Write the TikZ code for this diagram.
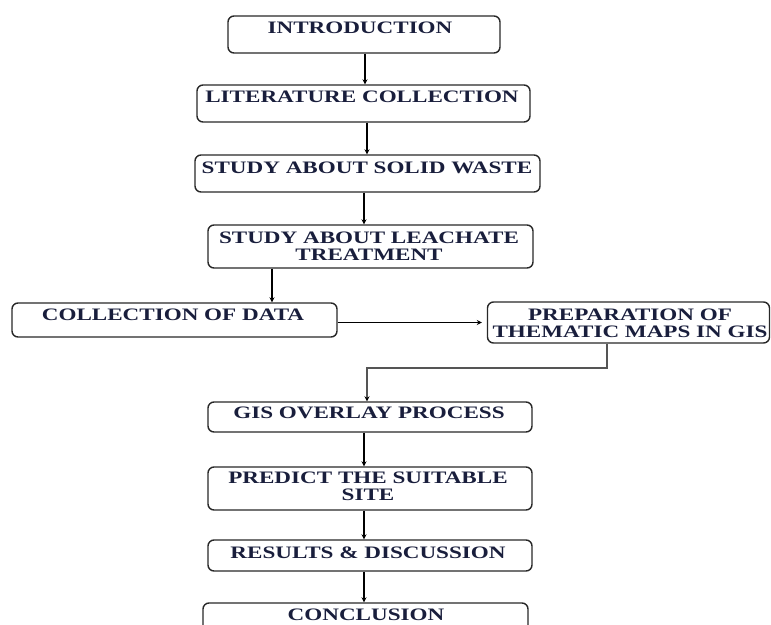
\documentclass[tikz,border=0pt]{standalone}
\usepackage{fontspec}
\setmainfont{Liberation Serif}
\newfontfamily\boxfont[FakeStretch=1.32]{Liberation Serif}
\usetikzlibrary{arrows.meta}
\definecolor{txtcol}{RGB}{25,30,60}
\definecolor{edgecol}{RGB}{40,40,40}
\definecolor{greyline}{RGB}{85,85,85}
\tikzset{
  box/.style={draw=edgecol, line width=1.4pt, rounded corners=6pt, inner sep=0pt},
  lbl/.style={anchor=north, inner sep=0pt, text=txtcol, align=center,
    font=\boxfont\bfseries\fontsize{17.5}{16.8}\selectfont},
  arr/.style={draw=black, line width=1.3pt, -{Stealth[length=5pt,width=5pt]}},
  garr/.style={draw=greyline, line width=1.8pt, -{Stealth[length=5pt,width=5pt,color=black]}}
}
\begin{document}
\begin{tikzpicture}[x=1pt,y=-1pt]
\useasboundingbox (0,0) rectangle (771,624);
\clip (0,0) rectangle (771,624);
% boxes
\node[box, minimum width=272pt, minimum height=37pt] (b1) at (364,34.5) {};
\node[box, minimum width=333pt, minimum height=37pt] (b2) at (363.5,103.5) {};
\node[box, minimum width=345pt, minimum height=37pt] (b3) at (367.5,173.5) {};
\node[box, minimum width=325pt, minimum height=43pt] (b4) at (370.5,246.5) {};
\node[box, minimum width=325pt, minimum height=34pt] (b5) at (174.5,320) {};
\node[box, minimum width=282pt, minimum height=41pt] (b6) at (628.5,322.5) {};
\node[box, minimum width=324pt, minimum height=30pt] (b7) at (370,417) {};
\node[box, minimum width=324pt, minimum height=43pt] (b8) at (370,488.5) {};
\node[box, minimum width=324pt, minimum height=31pt] (b9) at (370,555.5) {};
\node[box, minimum width=325pt, minimum height=42pt] (b10) at (365.5,624) {};
% labels
\node[lbl] (t1) at (360,22) {INTRODUCTION};
\node[lbl] (t2) at (362,91) {LITERATURE COLLECTION};
\node[lbl] (t3) at (367,162) {STUDY ABOUT SOLID WASTE};
\node[lbl] (t4) at (369,232) {STUDY ABOUT LEACHATE\\TREATMENT};
\node[lbl] (t5) at (173,309) {COLLECTION OF DATA};
\node[lbl] (t6) at (630,309) {PREPARATION OF\\THEMATIC MAPS IN GIS};
\node[lbl] (t7) at (369,407) {GIS OVERLAY PROCESS};
\node[lbl] (t8) at (368,472) {PREDICT THE SUITABLE\\SITE};
\node[lbl] (t9) at (368,547) {RESULTS \& DISCUSSION};
\node[lbl] (t10) at (366,609) {CONCLUSION};
% connector guides
\coordinate (k12) at (365,0);
\coordinate (k23) at (367,0);
\coordinate (k34) at (364,0);
\coordinate (k45) at (272,0);
\coordinate (k67) at (607,368);
\coordinate (k7) at (367,0);
\coordinate (kx) at (364,0);
% connectors
\draw[arr] (b1.south -| k12) -- (b2.north -| k12);
\draw[arr] (b2.south -| k23) -- (b3.north -| k23);
\draw[arr] (b3.south -| k34) -- (b4.north -| k34);
\draw[arr] (b4.south -| k45) -- (b5.north -| k45);
\draw[arr, line width=1pt, shorten >=5pt] (b5.east |- b6.west) -- (b6.west);
\draw[garr] (b6.south -| k67) -- (k67) -- (k67 -| k7) -- (b7.north -| k7);
\draw[arr] (b7.south -| kx) -- (b8.north -| kx);
\draw[arr] (b8.south -| kx) -- (b9.north -| kx);
\draw[arr] (b9.south -| kx) -- (b10.north -| kx);
\end{tikzpicture}
\end{document}
